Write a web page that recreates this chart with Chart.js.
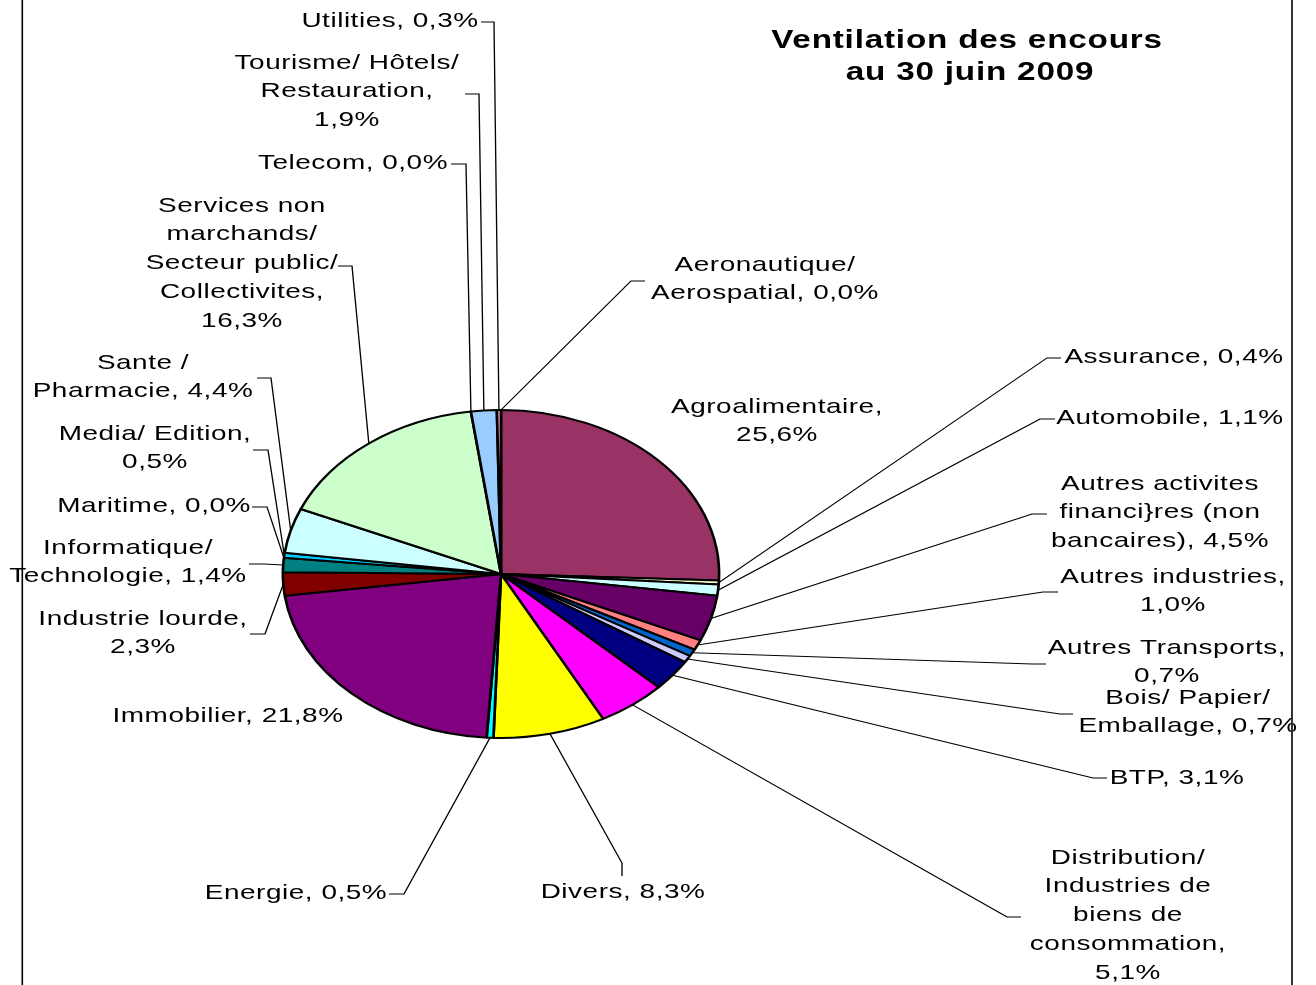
<!DOCTYPE html>
<html>
<head>
<meta charset="utf-8">
<script src="https://cdn.jsdelivr.net/npm/chart.js@4.4.1/dist/chart.umd.min.js"></script>
<style>
  html, body { margin: 0; padding: 0; background: #fff; overflow: hidden; }
  canvas { display: block; }
</style>
</head>
<body>
<canvas id="pieChart" width="1316" height="985"></canvas>
<script>
const categories = [
  'Aeronautique/ Aerospatial', 'Agroalimentaire', 'Assurance', 'Automobile',
  'Autres activites financi}res (non bancaires)', 'Autres industries', 'Autres Transports',
  'Bois/ Papier/ Emballage', 'BTP', 'Distribution/ Industries de biens de consommation',
  'Divers', 'Energie', 'Immobilier', 'Industrie lourde', 'Informatique/ Technologie',
  'Maritime', 'Media/ Edition', 'Sante / Pharmacie',
  'Services non marchands/ Secteur public/ Collectivites', 'Telecom',
  'Tourisme/ Hôtels/ Restauration', 'Utilities'
];
const shares = [0.0, 25.6, 0.4, 1.1, 4.5, 1.0, 0.7, 0.7, 3.1, 5.1, 8.3, 0.5, 21.8, 2.3, 1.4, 0.0, 0.5, 4.4, 16.3, 0.0, 1.9, 0.3];
const sliceColors = [
  '#9999FF', '#993366', '#FFFFCC', '#CCFFFF', '#660066', '#FF8080', '#0066CC',
  '#CCCCFF', '#000080', '#FF00FF', '#FFFF00', '#00FFFF', '#800080', '#800000',
  '#008080', '#0000FF', '#00CCFF', '#CCFFFF', '#CCFFCC', '#FFFF99', '#99CCFF', '#FF99CC'
];
// how each label is broken into lines; {v} is the value
const labelLines = [
  ['Aeronautique/', 'Aerospatial, {v}'],
  ['Agroalimentaire,', '{v}'],
  ['Assurance, {v}'],
  ['Automobile, {v}'],
  ['Autres activites', 'financi}res (non', 'bancaires), {v}'],
  ['Autres industries,', '{v}'],
  ['Autres Transports,', '{v}'],
  ['Bois/ Papier/', 'Emballage, {v}'],
  ['BTP, {v}'],
  ['Distribution/', 'Industries de', 'biens de', 'consommation,', '{v}'],
  ['Divers, {v}'],
  ['Energie, {v}'],
  ['Immobilier, {v}'],
  ['Industrie lourde,', '{v}'],
  ['Informatique/', 'Technologie, {v}'],
  ['Maritime, {v}'],
  ['Media/ Edition,', '{v}'],
  ['Sante /', 'Pharmacie, {v}'],
  ['Services non', 'marchands/', 'Secteur public/', 'Collectivites,', '{v}'],
  ['Telecom, {v}'],
  ['Tourisme/ Hôtels/', 'Restauration,', '{v}'],
  ['Utilities, {v}']
];

// label placement (picture pixels): text centre x, first line y
const labelX = [765, 777, 1174, 1170, 1160, 1173, 1167, 1188, 1177, 1128, 623, 296, 228, 143, 128, 154, 155, 143, 242, 353, 347, 390];
const labelY = [265, 407, 357, 418, 484, 577, 648, 698, 778, 858, 892, 893, 716, 619, 548, 506, 434, 363, 206, 163, 63, 21];
// leader lines: end near the text, then the bend
const leaderHook = [[645,281], null, [1061,358], [1055,419], [1047,514], [1058,592], [1046,664], [1073,714], [1107,778], [1021,917],
  [622,876], [389,894], null, [250,634], [249,564], [252,507], [253,450], [257,378], [338,266], [451,164], [465,94], [481,22]];
const leaderKnee = [[631,281], null, [1047,358], [1040,419], [1032,514], [1043,592], [1032,664], [1060,714], [1093,778], [1007,917],
  [622,863], [404,894], null, [265,634], [264,564], [267,507], [268,450], [271,378], [352,266], [466,164], [479,94], [494,22]];

const STRETCH = 1.33;   // the original picture is stretched sideways
const LINE_H = 28.7;
const PIE_X = 501 / STRETCH, PIE_Y = 574, PIE_R = 164;

function fmt(v) {
  return v.toFixed(1).replace('.', ',') + '%';
}

const stretchPlugin = {
  id: 'stretch',
  beforeDraw(chart) {
    chart.ctx.save();
    chart.ctx.scale(STRETCH, 1);
  },
  afterDraw(chart) {
    const ctx = chart.ctx;
    const arcs = chart.getDatasetMeta(0).data;

    // leader lines
    ctx.lineWidth = 1;
    ctx.strokeStyle = '#000';
    arcs.forEach((arc, i) => {
      if (!leaderHook[i]) return;
      const mid = (arc.startAngle + arc.endAngle) / 2;
      const ex = arc.x + arc.outerRadius * Math.cos(mid);
      const ey = arc.y + arc.outerRadius * Math.sin(mid);
      ctx.beginPath();
      ctx.moveTo(ex, ey);
      ctx.lineTo(leaderKnee[i][0] / STRETCH, leaderKnee[i][1]);
      ctx.lineTo(leaderHook[i][0] / STRETCH, leaderHook[i][1]);
      ctx.stroke();
    });

    // data labels
    ctx.fillStyle = '#000';
    ctx.textAlign = 'center';
    ctx.textBaseline = 'middle';
    ctx.font = '21px "Liberation Sans", Arial, sans-serif';
    ctx.letterSpacing = '0.4px';
    labelLines.forEach((lines, i) => {
      lines.forEach((ln, k) => {
        ctx.fillText(ln.replace('{v}', fmt(shares[i])), labelX[i] / STRETCH, labelY[i] + k * LINE_H);
      });
    });

    // title
    ctx.font = 'bold 25px "Liberation Sans", Arial, sans-serif';
    ctx.letterSpacing = '0.6px';
    ctx.fillText('Ventilation des encours', 967 / STRETCH, 41);
    ctx.fillText('au 30 juin 2009', 970 / STRETCH, 73);
    ctx.letterSpacing = '0px';
    ctx.restore();

    // frame edges
    ctx.fillStyle = '#000';
    ctx.fillRect(21.5, 0, 1.6, chart.height);
    ctx.fillStyle = '#333';
    ctx.fillRect(1291, 0, 2, chart.height);
  }
};

new Chart(document.getElementById('pieChart'), {
  type: 'pie',
  data: {
    labels: categories,
    datasets: [{
      data: shares,
      backgroundColor: sliceColors,
      borderColor: '#000',
      borderWidth: 2,
      radius: PIE_R
    }]
  },
  options: {
    responsive: false,
    maintainAspectRatio: false,
    animation: false,
    events: [],
    layout: {
      padding: {
        left: PIE_X - 200,
        right: 1316 - (PIE_X + 200),
        top: PIE_Y - 200,
        bottom: 985 - (PIE_Y + 200)
      }
    },
    plugins: {
      legend: { display: false },
      tooltip: { enabled: false },
      title: { display: false }
    }
  },
  plugins: [stretchPlugin]
});
</script>
</body>
</html>
